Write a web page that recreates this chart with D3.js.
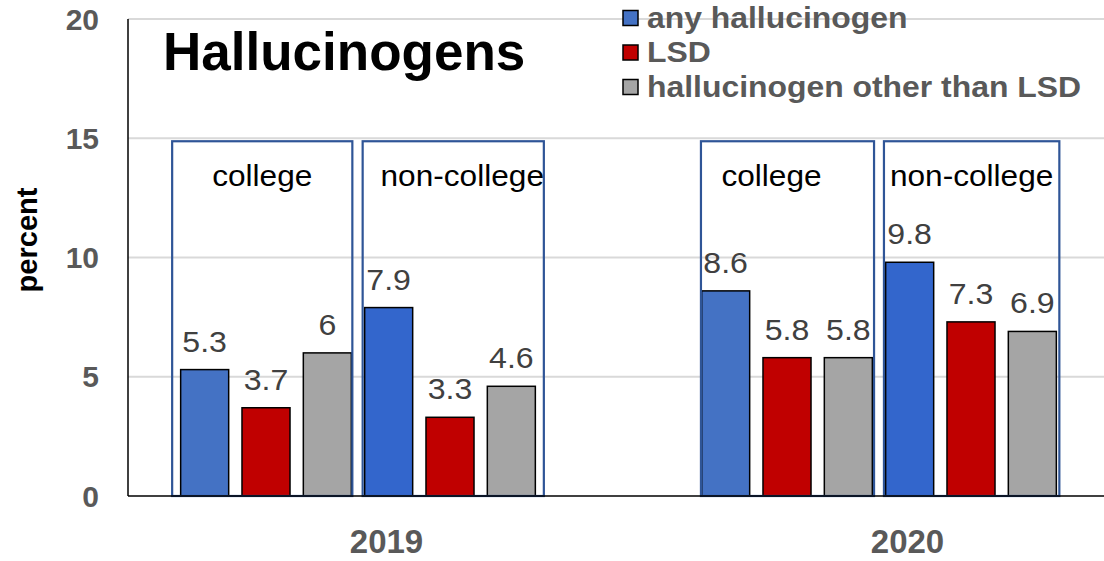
<!DOCTYPE html>
<html>
<head>
<meta charset="utf-8">
<script src="https://cdn.jsdelivr.net/npm/d3@7"></script>
<style>
  body { margin: 0; background: #fff; overflow: hidden; }
  text { font-family: "Liberation Sans", Arial, sans-serif; }
</style>
</head>
<body>
<script>
// chart values
const years = ["2019", "2020"];
const populations = ["college", "non-college"];
const drugs = ["any hallucinogen", "LSD", "hallucinogen other than LSD"];
const college2019 = [5.3, 3.7, 6];
const nonCollege2019 = [7.9, 3.3, 4.6];
const college2020 = [8.6, 5.8, 5.8];
const nonCollege2020 = [9.8, 7.3, 6.9];
const yTicks = [0, 5, 10, 15, 20];

const width = 1104;
const height = 561;
const plotLeft = 128;

const table = {
  "2019": { "college": college2019, "non-college": nonCollege2019 },
  "2020": { "college": college2020, "non-college": nonCollege2020 }
};

// flatten into one row per bar
const rows = [];
years.forEach(yr => {
  populations.forEach(pop => {
    drugs.forEach((dr, i) => {
      rows.push({ year: yr, pop: pop, drug: dr, value: table[yr][pop][i] });
    });
  });
});

const svg = d3.select("body")
  .append("svg")
  .attr("width", width)
  .attr("height", height);

// year bands (the right one runs past the picture edge, as in the original)
const x0 = d3.scaleBand()
  .domain(years)
  .range([plotLeft, 1170]);

// six bars per year: college x3, non-college x3
const slots = [];
populations.forEach(p => drugs.forEach(d => slots.push(p + "|" + d)));
const x1 = d3.scaleBand()
  .domain(slots)
  .range([46, 414])
  .paddingInner(0.217)
  .paddingOuter(0.1085);

const y = d3.scaleLinear()
  .domain([0, 20])
  .range([496, 19]);

const barX = d => x0(d.year) + x1(d.pop + "|" + d.drug);

function barColor(d) {
  if (d.drug === drugs[0]) return d.pop === "college" ? "#4472C4" : "#3366CC";
  if (d.drug === drugs[1]) return "#C00000";
  return "#A5A5A5";
}

// gridlines
svg.selectAll(".grid")
  .data(yTicks.filter(t => t > 0))
  .enter()
  .append("line")
  .attr("x1", plotLeft)
  .attr("x2", width)
  .attr("y1", d => y(d))
  .attr("y2", d => y(d))
  .attr("stroke", "#D9D9D9")
  .attr("stroke-width", 2);

// y tick labels
svg.selectAll(".ytick")
  .data(yTicks)
  .enter()
  .append("text")
  .attr("x", 99)
  .attr("y", d => y(d) + 10.5)
  .attr("text-anchor", "end")
  .style("font-size", "30px")
  .style("font-weight", "bold")
  .attr("fill", "#595959")
  .text(d => d);

// bars
svg.selectAll(".bar")
  .data(rows)
  .enter()
  .append("rect")
  .attr("x", barX)
  .attr("y", d => y(d.value))
  .attr("width", x1.bandwidth())
  .attr("height", d => y(0) - y(d.value))
  .attr("fill", barColor)
  .attr("stroke", "#000")
  .attr("stroke-width", 1.5);

// value labels (original text is a little wide, so stretch it)
svg.selectAll(".val")
  .data(rows)
  .enter()
  .append("text")
  .attr("transform", d => `translate(${barX(d) + x1.bandwidth() / 2}, ${y(d.value) - 18}) scale(1.07,1)`)
  .attr("text-anchor", "middle")
  .style("font-size", "30px")
  .attr("fill", "#404040")
  .text(d => d.value);

// boxes around each population group (hand drawn in the original, so uneven)
const groups = [];
years.forEach(yr => populations.forEach(pop => groups.push({ year: yr, pop: pop })));
const boxPad = [[8.5, 1], [2, 8.5], [0.7, 1.7], [1.7, 3]];
const labelShift = [0, 9, -16, 0];

const boxLeft = (g, i) => x0(g.year) + x1(g.pop + "|" + drugs[0]) - boxPad[i][0];
const boxRight = (g, i) => x0(g.year) + x1(g.pop + "|" + drugs[2]) + x1.bandwidth() + boxPad[i][1];

svg.selectAll(".box")
  .data(groups)
  .enter()
  .append("rect")
  .attr("x", boxLeft)
  .attr("y", y(15) + 3)
  .attr("width", (g, i) => boxRight(g, i) - boxLeft(g, i))
  .attr("height", y(0) - y(15) - 3)
  .attr("fill", "none")
  .attr("stroke", "#2F5597")
  .attr("stroke-width", 2.2);

svg.selectAll(".boxLabel")
  .data(groups)
  .enter()
  .append("text")
  .attr("transform", (g, i) => `translate(${(boxLeft(g, i) + boxRight(g, i)) / 2 + labelShift[i]}, 186) scale(1.09,1)`)
  .attr("text-anchor", "middle")
  .style("font-size", "29px")
  .attr("fill", "#000")
  .text(g => g.pop);

// axis lines
svg.append("line")
  .attr("x1", plotLeft).attr("x2", plotLeft)
  .attr("y1", y(20)).attr("y2", y(0))
  .attr("stroke", "#000").attr("stroke-width", 1.5);

svg.append("line")
  .attr("x1", plotLeft).attr("x2", width)
  .attr("y1", y(0)).attr("y2", y(0))
  .attr("stroke", "#000").attr("stroke-width", 1.5);

// year labels
svg.selectAll(".year")
  .data(years)
  .enter()
  .append("text")
  .attr("x", d => x0(d) + x0.bandwidth() / 2 - 2)
  .attr("y", 553)
  .attr("text-anchor", "middle")
  .style("font-size", "33px")
  .style("font-weight", "bold")
  .attr("fill", "#595959")
  .text(d => d);

// y-axis title
svg.append("text")
  .attr("transform", "rotate(-90)")
  .attr("x", -240)
  .attr("y", 37)
  .attr("text-anchor", "middle")
  .style("font-size", "29px")
  .style("font-weight", "bold")
  .attr("fill", "#000")
  .text("percent");

// chart title
svg.append("text")
  .attr("x", 163)
  .attr("y", 70)
  .style("font-size", "53px")
  .style("font-weight", "bold")
  .attr("fill", "#000")
  .text("Hallucinogens");

// legend
const legendColors = ["#4472C4", "#C00000", "#A5A5A5"];
const legend = svg.selectAll(".legend")
  .data(drugs)
  .enter()
  .append("g")
  .attr("transform", (d, i) => `translate(623, ${10.5 + i * 34.5})`);

legend.append("rect")
  .attr("width", 15)
  .attr("height", 15)
  .attr("fill", (d, i) => legendColors[i])
  .attr("stroke", "#000")
  .attr("stroke-width", 1.5);

legend.append("text")
  .attr("transform", "translate(24, 17) scale(1.1,1)")
  .style("font-size", "29px")
  .style("font-weight", "bold")
  .attr("fill", "#595959")
  .text(d => d);
</script>
</body>
</html>
